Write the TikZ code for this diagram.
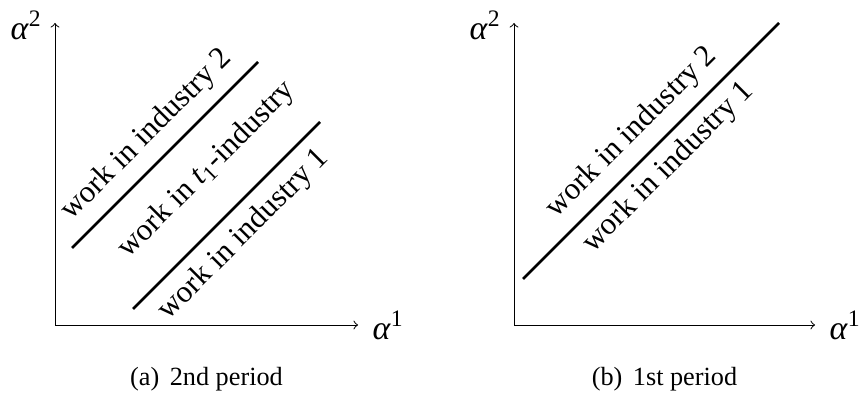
\documentclass[tikz,border=0pt]{standalone}
\usepackage{fontspec}
\setmainfont{Liberation Serif}

\begin{document}
\begin{tikzpicture}[x=0.4pt, y=0.4pt, >=to,
    axis/.style={->, thin},
    boundary/.style={line width=1pt},
    region/.style={font=\fontsize{12.4}{15}\selectfont, rotate=45},
    axislabel/.style={font=\fontsize{13.5}{16}\selectfont, inner sep=0pt},
    caption/.style={font=\fontsize{10.5}{12}\selectfont}]
  \useasboundingbox (0,0) rectangle (864,400);

  % (a) 2nd period: axes
  \coordinate (Oa) at (55,75);
  \coordinate (Xa) at (358,75);
  \coordinate (Ya) at (55,377);
  \draw[axis] (Oa) -- (Xa);
  \draw[axis] (Oa) -- (Ya);
  \node[axislabel, anchor=west] (a1a) at ([xshift=5.6pt]Xa) {\textit{α}\textsuperscript{1}};
  \node[axislabel, anchor=east] (a2a) at ([xshift=-5pt, yshift=-1pt]Ya) {\textit{α}\textsuperscript{2}};

  % (a) 2nd period: boundaries
  \coordinate (ua) at (72,152);
  \coordinate (ub) at (258,338);
  \coordinate (la) at (133,91);
  \coordinate (lb) at (320,278);
  \draw[boundary] (ua) -- (ub);
  \draw[boundary] (la) -- (lb);

  % (a) 2nd period: regions
  \node[region] (ind2a) at (147,265) {work in industry 2};
  \node[region] (tind) at (207,230) {work in \textit{t}\textsubscript{1}-industry};
  \node[region] (ind1a) at (244,165) {work in industry 1};

  % (b) 1st period: axes
  \coordinate (Ob) at (514,75);
  \coordinate (Xb) at (815,75);
  \coordinate (Yb) at (514,377);
  \draw[axis] (Ob) -- (Xb);
  \draw[axis] (Ob) -- (Yb);
  \node[axislabel, anchor=west] (a1b) at ([xshift=5.6pt]Xb) {\textit{α}\textsuperscript{1}};
  \node[axislabel, anchor=east] (a2b) at ([xshift=-5pt, yshift=-1pt]Yb) {\textit{α}\textsuperscript{2}};

  % (b) 1st period: boundary and regions
  \coordinate (ma) at (523,121);
  \coordinate (mb) at (779,377);
  \draw[boundary] (ma) -- (mb);
  \node[region] (ind2b) at (632,267.5) {work in industry 2};
  \node[region] (ind1b) at (668.5,232.5) {work in industry 1};

  % Captions
  \node[caption] (capa) at (206.5,21) {(a)\hspace{0.4em}2nd period};
  \node[caption] (capb) at (664.5,21) {(b)\hspace{0.4em}1st period};
\end{tikzpicture}
\end{document}
